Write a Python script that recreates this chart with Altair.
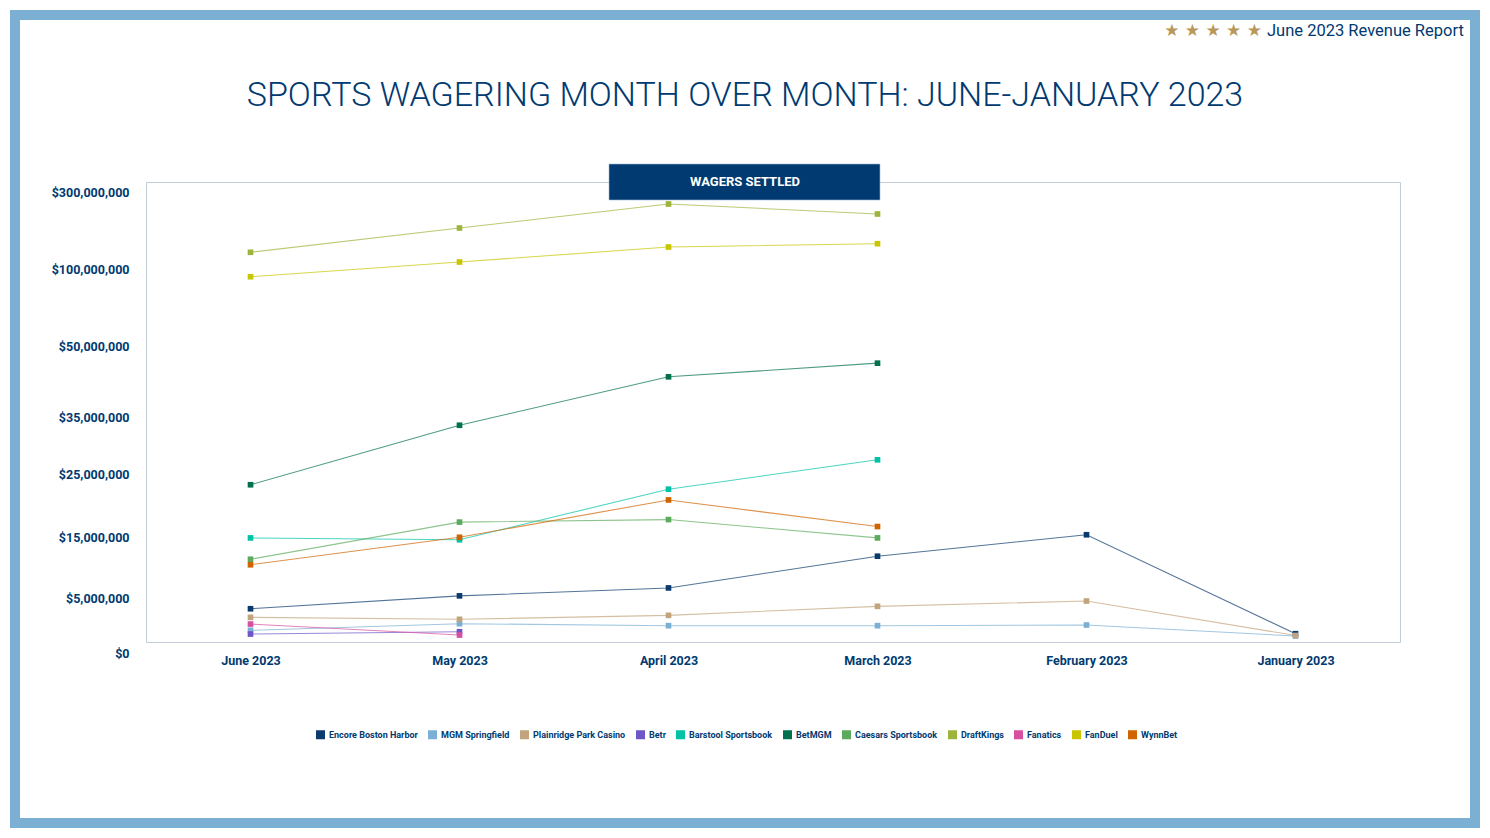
import altair as alt
import pandas as pd

# ---------------- data ----------------
months = ["June 2023", "May 2023", "April 2023", "March 2023", "February 2023", "January 2023"]

operators = [
    "Encore Boston Harbor", "MGM Springfield", "Plainridge Park Casino", "Betr",
    "Barstool Sportsbook", "BetMGM", "Caesars Sportsbook", "DraftKings",
    "Fanatics", "FanDuel", "WynnBet",
]
colors = [
    "#0b3b6e", "#7bafd4", "#c2a47c", "#6e56c8",
    "#00c3a6", "#00704f", "#5cab5c", "#9db43c",
    "#d84f9f", "#c8c600", "#d06400",
]

encore = [4.05e6, 5.4e6, 6.7e6, 11.9e6, 15.4e6, 1.78e6]
mgm = [2.09e6, 2.69e6, 2.51e6, 2.51e6, 2.57e6, 1.57e6]
plainridge = [3.27e6, 3.09e6, 3.45e6, 4.27e6, 4.75e6, 1.62e6]
betr = [1.75e6, 1.96e6, None, None, None, None]
barstool = [14.9e6, 14.6e6, 22.6e6, 27.5e6, None, None]
betmgm = [23.3e6, 33.6e6, 43.6e6, 46.5e6, None, None]
caesars = [11.4e6, 17.4e6, 17.8e6, 14.9e6, None, None]
draftkings = [144.4e6, 207.8e6, 270.5e6, 244.4e6, None, None]
fanatics = [2.66e6, 1.66e6, None, None, None, None]
fanduel = [95.2e6, 119.0e6, 158.2e6, 166.8e6, None, None]
wynnbet = [10.5e6, 15.0e6, 20.9e6, 16.7e6, None, None]

series = [encore, mgm, plainridge, betr, barstool, betmgm, caesars,
          draftkings, fanatics, fanduel, wynnbet]

y_ticks = [0, 5e6, 15e6, 25e6, 35e6, 50e6, 100e6, 300e6]
# pixel positions (from the top of the plot) of the axis ticks
y_tick_pos = [471.3, 416.3, 355.3, 292.0, 235.3, 164.7, 87.3, 10.7]

TITLE = "SPORTS WAGERING MONTH OVER MONTH: JUNE-JANUARY 2023"
REPORT = "June 2023 Revenue Report"
STARS = "★ ★ ★ ★ ★"
PANEL = "WAGERS SETTLED"

rows = []
for op, vals in zip(operators, series):
    for i, (m, v) in enumerate(zip(months, vals)):
        if v is not None:
            rows.append({"operator": op, "month": m, "idx": i, "value": v})
df = pd.DataFrame(rows)

NAVY = "#003a70"
FONT = "Roboto"

W, H = 1254, 460

x_enc = alt.X("month:N", sort=months,
              scale=alt.Scale(type="point", padding=0.5),
              axis=alt.Axis(title=None, labelAngle=0, ticks=False, domain=False,
                            labelPadding=12, labelFontSize=12.5, labelFont=FONT,
                            labelFontWeight="bold", labelColor=NAVY))
y_enc = alt.Y("value:Q",
              scale=alt.Scale(domain=y_ticks, range=y_tick_pos, nice=False, zero=False),
              axis=alt.Axis(title=None, values=y_ticks, format="$,.0f", ticks=False,
                            domain=False, grid=False, labelPadding=17,
                            labelFontSize=12.5, labelFont=FONT, labelFontWeight="bold",
                            labelColor=NAVY))
color_scale = alt.Scale(domain=operators, range=colors)

lines = alt.Chart(df).mark_line(strokeWidth=1.1, strokeOpacity=0.7).encode(
    x=x_enc, y=y_enc,
    color=alt.Color("operator:N", scale=color_scale, legend=None),
    order=alt.Order("idx:Q"),
    detail="operator:N",
)

points = alt.Chart(df).mark_square(size=32, opacity=1).encode(
    x=x_enc, y=y_enc,
    color=alt.Color("operator:N", scale=color_scale, sort=operators,
                    legend=alt.Legend(title=None, orient="none", direction="horizontal",
                                      legendX=170, legendY=548, columns=11,
                                      symbolType="square", symbolSize=81,
                                      symbolStrokeWidth=0, symbolOffset=0,
                                      labelFont=FONT, labelFontSize=9,
                                      labelFontWeight="bold", labelColor=NAVY,
                                      labelOffset=4, columnPadding=10,
                                      labelLimit=300)),
)

one = pd.DataFrame({"k": [0]})

frame = alt.Chart(one).mark_rect(fillOpacity=0, stroke="#7bafd4", strokeWidth=10).encode(
    x=alt.value(-131), x2=alt.value(1329), y=alt.value(-167), y2=alt.value(641))

title = alt.Chart(pd.DataFrame({"t": [TITLE]})).mark_text(
    font=FONT, fontSize=34, fontWeight=300, color=NAVY, align="center",
    baseline="middle").encode(text="t:N", x=alt.value(599), y=alt.value(-86))

stars = alt.Chart(pd.DataFrame({"t": [STARS]})).mark_text(
    font="DejaVu Sans", fontSize=17, color="#b8995a", align="right",
    baseline="middle").encode(text="t:N", x=alt.value(1116), y=alt.value(-151))

report = alt.Chart(pd.DataFrame({"t": [REPORT]})).mark_text(
    font="Roboto", fontSize=16.5, color=NAVY, align="left", baseline="middle").encode(
    text="t:N", x=alt.value(1121), y=alt.value(-151))

box = alt.Chart(one).mark_rect(fill=NAVY, stroke="#9fb9d6", strokeWidth=0.6).encode(
    x=alt.value(463), x2=alt.value(734), y=alt.value(-18), y2=alt.value(18))

box_text = alt.Chart(pd.DataFrame({"t": [PANEL]})).mark_text(
    font=FONT, fontSize=13, fontWeight="bold", color="white", align="center",
    baseline="middle").encode(text="t:N", x=alt.value(599), y=alt.value(0))

chart = alt.layer(frame, lines, points, title, stars, report, box, box_text).resolve_legend(
    color="independent"
).properties(
    width=W, height=H,
    autosize=alt.AutoSizeParams(type="none"),
    padding={"left": 138, "top": 174, "right": 82, "bottom": 188},
    background="white",
).configure_view(stroke="#c3cbd8", strokeWidth=1)

chart.save("out.html", embed_options={"renderer": "svg", "actions": False})
